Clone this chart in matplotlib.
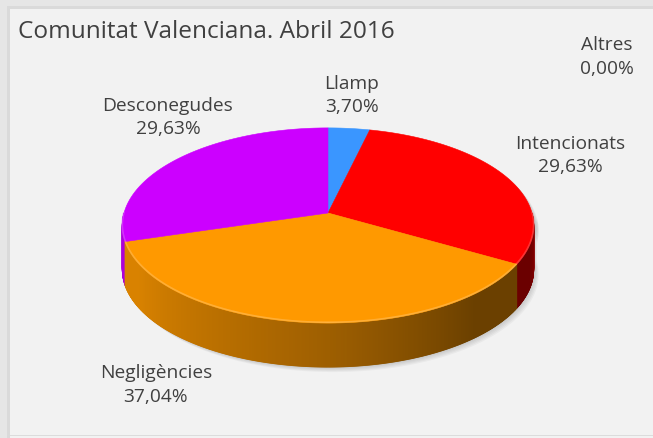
import numpy as np
import matplotlib
matplotlib.use("Agg")
import matplotlib.pyplot as plt
from matplotlib.patches import Polygon, Rectangle
from matplotlib.colors import to_rgb

plt.rcParams['font.family'] = ['Open Sans', 'DejaVu Sans']

# data
title = "Comunitat Valenciana. Abril 2016"
labels = ["Llamp", "Intencionats", "Negligències", "Desconegudes", "Altres"]
values = [3.70, 29.63, 37.04, 29.63, 0.00]
colors = ["#3A96FF", "#FF0000", "#FF9900", "#CC00FF", "#92D050"]
# label anchor (x, y of first line) in pixels
label_pos = [(352, 84), (570, 144), (156, 373), (168, 106), (607, 45)]

# pie geometry (pixels)
cx, cy = 328, 213
R, A, P, DEPTH = 204, 96, 0.128, 44
txt_col = "#404040"


def rim(theta):
    t = np.radians(theta)
    u, v = np.cos(t), np.sin(t)
    s = 1.0 / (1.0 + P * v)
    return cx + R * u * s, cy - A * v * s


total = sum(values)
cum = np.concatenate([[0], np.cumsum(values)]) / total
bounds = 90 - 360 * cum   # clockwise from 12 o'clock


def slice_of(theta):
    frac = ((90 - theta) % 360) / 360.0
    return min(np.searchsorted(cum, frac, side="right") - 1, len(values) - 1)


fig = plt.figure(figsize=(6.53, 4.38), dpi=100, facecolor="#F2F2F2")
ax = fig.add_axes([0, 0, 1, 1])
ax.set_xlim(0, 653)
ax.set_ylim(438, 0)
ax.axis("off")

# frame
ax.add_patch(Rectangle((0, 0), 653, 9, color="#E6E6E6", lw=0))
ax.add_patch(Rectangle((0, 0), 10, 438, color="#E6E6E6", lw=0))
ax.add_patch(Rectangle((7, 6), 653, 3, color="#DADADA", lw=0))
ax.add_patch(Rectangle((7, 6), 3, 438, color="#DADADA", lw=0))
ax.add_patch(Rectangle((10, 434.5), 653, 1.5, color="#DCDCDC", lw=0))

# shadow
th_all = np.linspace(0, 360, 200)
xt, yt = rim(th_all)
th_front = np.linspace(0, -180, 100)
xf, yf = rim(th_front)
outline_x = np.concatenate([xf, xf[::-1]])
outline_y = np.concatenate([yf, yf[::-1] + DEPTH])
for k in range(1, 6):
    ax.add_patch(Polygon(np.c_[xt + k, yt + k], closed=True, color="#000000",
                         alpha=0.035, lw=0))
    ax.add_patch(Polygon(np.c_[outline_x + k, outline_y + k], closed=True,
                         color="#000000", alpha=0.035, lw=0))

# side walls
shade_t = [-180, -150, -90, -50, -20, 0]
shade_f = [0.85, 0.85, 0.62, 0.42, 0.42, 0.62]
th = np.linspace(-180, 0, 721)
strips = []
for a0, a1 in zip(th[:-1], th[1:]):
    mid = 0.5 * (a0 + a1)
    i = slice_of(mid)
    f = np.interp(mid, shade_t, shade_f)
    col = np.array(to_rgb(colors[i])) * f
    x0, y0 = rim(a0)
    x1, y1 = rim(a1)
    strips.append((np.sin(np.radians(mid)), [(x0, y0), (x1, y1), (x1, y1 + DEPTH), (x0, y0 + DEPTH)], col))
strips.sort(key=lambda s: -s[0])
for _, pts, col in strips:
    ax.add_patch(Polygon(pts, closed=True, facecolor=col, edgecolor=col, lw=0.6))

# top faces
for i, v in enumerate(values):
    if v <= 0:
        continue
    arc = np.linspace(bounds[i], bounds[i + 1], 120)
    x, y = rim(arc)
    pts = np.c_[np.concatenate([[cx], x]), np.concatenate([[cy], y])]
    ax.add_patch(Polygon(pts, closed=True, facecolor=colors[i], edgecolor=colors[i], lw=0.4))

# light bevel on the front rim
for a0, a1 in zip(th[:-1], th[1:]):
    mid = 0.5 * (a0 + a1)
    i = slice_of(mid)
    c = 0.6 * np.array(to_rgb(colors[i])) + 0.4
    x0, y0 = rim(a0)
    x1, y1 = rim(a1)
    ax.plot([x0, x1], [y0 - 0.8, y1 - 0.8], color=c, lw=1.2, alpha=0.6, solid_capstyle="butt")

# texts
ax.text(18, 32, title, fontsize=17.6, color=txt_col, ha="left", va="center")
for name, v, (x, y) in zip(labels, values, label_pos):
    pct = f"{v:.2f}".replace(".", ",") + "%"
    ax.text(x, y, name, fontsize=13.8, color=txt_col, ha="center", va="center")
    ax.text(x, y + 23.5, pct, fontsize=13.8, color=txt_col, ha="center", va="center")

fig.savefig("out.png", dpi=100, facecolor=fig.get_facecolor())
